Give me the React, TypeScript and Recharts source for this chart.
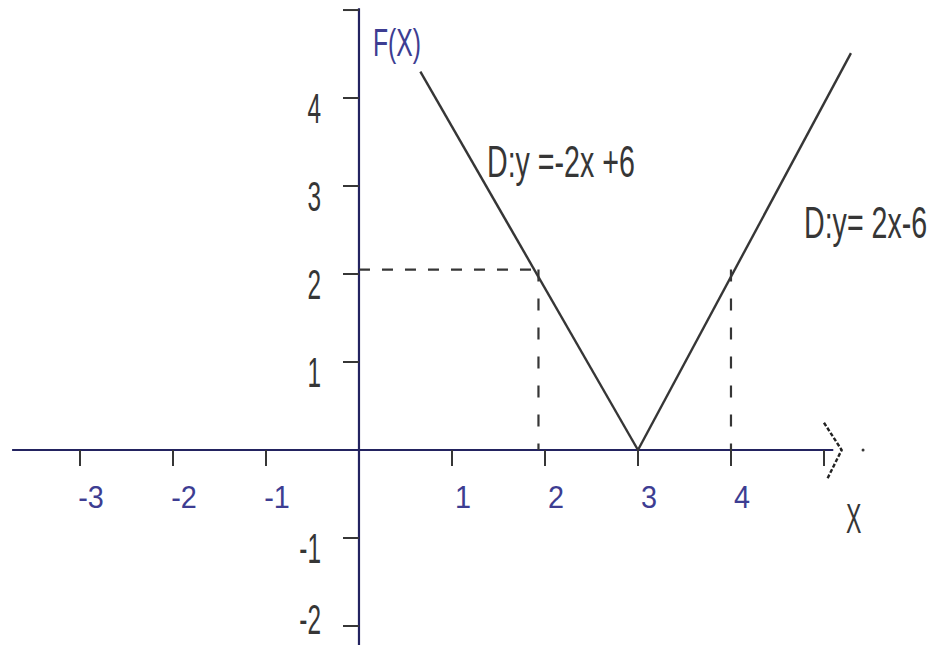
import { ComposedChart, Line, Scatter, XAxis, YAxis, ReferenceDot } from 'recharts'

// graph of f(x) = |2x - 6|
const descending = [
  { x: 0.66, y: 4.3 },
  { x: 3, y: 0 },
]
const ascending = [
  { x: 3, y: 0 },
  { x: 5.29, y: 4.51 },
]

// dashed guides at y = 2
const guideH = [
  { x: 0, y: 2.05 },
  { x: 1.93, y: 2.05 },
]
const guideLeft = [
  { x: 1.93, y: 2.05 },
  { x: 1.93, y: 0 },
]
const guideRight = [
  { x: 4, y: 2.05 },
  { x: 4, y: 0 },
]

// hand drawn axes
const xAxisLine = [
  { x: -3.73, y: 0 },
  { x: 5.1, y: 0 },
]
const yAxisLine = [
  { x: 0, y: 5.02 },
  { x: 0, y: -2.22 },
]
const arrowHead = [
  { x: 5.0, y: 0.31 },
  { x: 5.19, y: 0 },
  { x: 5.03, y: -0.34 },
]

const xTickValues = [-3, -2, -1, 1, 2, 3, 4, 5]
const xTickLabels = ['-3', '-2', '-1', '1', '2', '3', '4', '']
const yTickValues = [5, 4, 3, 2, 1, -1, -2]
const yTickLabels = ['', '4', '3', '2', '1', '-1', '-2']

const xTicks = xTickValues.map((v, i) => ({ x: v, y: 0, label: xTickLabels[i] }))
const yTicks = yTickValues.map((v, i) => ({ x: 0, y: v, label: yTickLabels[i] }))

const AXIS = '#232360'
const INK = '#363636'
const BLUE = '#3d3d92'
const FONT = '"Liberation Sans", Arial, sans-serif'

function XTick(props: any) {
  const { cx, cy, payload } = props
  return (
    <g>
      <line x1={cx} y1={cy} x2={cx} y2={cy + 16} stroke={INK} strokeWidth={2} />
      {payload.label && (
        <text
          transform={`translate(${cx + 11},${cy + 58}) scale(0.9,1)`}
          textAnchor="middle"
          fontSize={32}
          fontFamily={FONT}
          fill={BLUE}
        >
          {payload.label}
        </text>
      )}
    </g>
  )
}

function YTick(props: any) {
  const { cx, cy, payload } = props
  // the lowest label sits against the bottom edge
  const base = Math.min(cy + 25, 634)
  return (
    <g>
      <line x1={cx - 16} y1={cy} x2={cx} y2={cy} stroke={INK} strokeWidth={2} />
      {payload.label && (
        <text
          transform={`translate(${cx - 38},${base}) scale(0.58,1)`}
          textAnchor="end"
          fontSize={42}
          fontFamily={FONT}
          fill={INK}
        >
          {payload.label}
        </text>
      )}
    </g>
  )
}

function Note({ x, y, text, size, sx, color }: { x: number; y: number; text: string; size: number; sx: number; color: string }) {
  return (
    <text transform={`translate(${x},${y}) scale(${sx},1)`} fontSize={size} fontFamily={FONT} fill={color}>
      {text}
    </text>
  )
}

export default function App() {
  return (
    <div style={{ position: 'absolute', left: 0, top: 0, width: 934, height: 645, background: '#fff' }}>
      <ComposedChart width={934} height={645} margin={{ top: 0, right: 0, bottom: 0, left: 0 }}>
        <XAxis dataKey="x" type="number" domain={[-3.86, 6.183]} allowDataOverflow hide />
        <YAxis dataKey="y" type="number" domain={[-2.216, 5.114]} allowDataOverflow hide />

        <Line data={xAxisLine} dataKey="y" stroke={AXIS} strokeWidth={2.2} dot={false} activeDot={false} isAnimationActive={false} />
        <Line data={yAxisLine} dataKey="y" stroke={AXIS} strokeWidth={2.2} dot={false} activeDot={false} isAnimationActive={false} />
        <Line data={arrowHead} dataKey="y" stroke="#222" strokeWidth={2.4} strokeDasharray="4 2" dot={false} activeDot={false} isAnimationActive={false} />

        <Line data={guideH} dataKey="y" stroke={INK} strokeWidth={2.2} strokeDasharray="11 12" dot={false} activeDot={false} isAnimationActive={false} />
        <Line data={guideLeft} dataKey="y" stroke={INK} strokeWidth={2.2} strokeDasharray="12 17" dot={false} activeDot={false} isAnimationActive={false} />
        <Line data={guideRight} dataKey="y" stroke={INK} strokeWidth={2.2} strokeDasharray="12 17" dot={false} activeDot={false} isAnimationActive={false} />

        <Line data={descending} dataKey="y" stroke={INK} strokeWidth={2.4} dot={false} activeDot={false} isAnimationActive={false} />
        <Line data={ascending} dataKey="y" stroke={INK} strokeWidth={2.4} dot={false} activeDot={false} isAnimationActive={false} />

        <Scatter data={xTicks} dataKey="y" shape={XTick} isAnimationActive={false} />
        <Scatter data={yTicks} dataKey="y" shape={YTick} isAnimationActive={false} />

        <ReferenceDot x={5.42} y={0} r={1.5} fill={INK} stroke="none" />
      </ComposedChart>

      <svg width={934} height={645} style={{ position: 'absolute', left: 0, top: 0, pointerEvents: 'none' }}>
        <Note x={373} y={56} text="F(X)" size={38} sx={0.65} color={BLUE} />
        <Note x={487} y={177} text="D:y =-2x +6" size={44} sx={0.65} color={INK} />
        <Note x={804} y={238} text="D:y= 2x-6" size={44} sx={0.65} color={INK} />
        <Note x={846} y={533} text="X" size={42} sx={0.55} color={INK} />
      </svg>
    </div>
  )
}
